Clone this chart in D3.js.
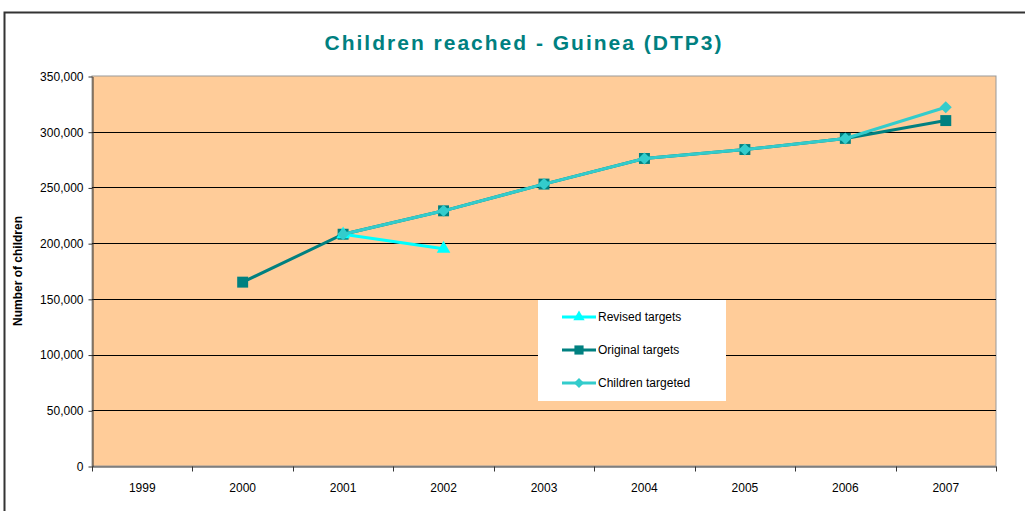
<!DOCTYPE html>
<html>
<head>
<meta charset="utf-8">
<script src="https://cdn.jsdelivr.net/npm/d3@7"></script>
<style>
  body { margin: 0; background: #fff; }
  text { font-family: "Liberation Sans", Arial, sans-serif; }
</style>
</head>
<body>
<div id="chart"></div>
<script>
var years = ['1999', '2000', '2001', '2002', '2003', '2004', '2005', '2006', '2007'];
var revised = [null, null, 208000, 195000, null, null, null, null, null];
var original = [null, 165000, 208000, 229000, 253000, 276000, 284000, 294000, 310000];
var targeted = [null, null, 208000, 229000, 253000, 276000, 284000, 294000, 322000];
var yTicks = [0, 50000, 100000, 150000, 200000, 250000, 300000, 350000];

var width = 1025;
var height = 511;
var plot = { left: 92, right: 996, top: 76, bottom: 466 };

var svg = d3.select('#chart')
  .append('svg')
    .attr('width', width)
    .attr('height', height);

// outer chart frame
svg.append('rect')
  .attr('x', 4.5).attr('y', 12.5)
  .attr('width', 1040).attr('height', 520)
  .attr('fill', '#fff')
  .attr('stroke', '#333')
  .attr('stroke-width', 2);

var x = d3.scaleBand()
  .domain(years)
  .range([plot.left, plot.right]);

var y = d3.scaleLinear()
  .domain([0, 350000])
  .range([plot.bottom, plot.top]);

svg.append('rect')
  .attr('x', plot.left).attr('y', plot.top)
  .attr('width', plot.right - plot.left)
  .attr('height', plot.bottom - plot.top)
  .attr('fill', '#FFCC99')
  .attr('stroke', '#999')
  .attr('stroke-width', 1);

// gridlines
svg.append('g')
  .selectAll('line')
  .data(yTicks.filter(d => d > 0 && d < 350000)).enter()
  .append('line')
    .attr('x1', plot.left).attr('x2', plot.right)
    .attr('y1', d => Math.round(y(d)) + 0.5)
    .attr('y2', d => Math.round(y(d)) + 0.5)
    .attr('stroke', '#000');

var yAxis = svg.append('g')
  .attr('transform', 'translate(' + (plot.left + 0.5) + ',0.5)')
  .call(d3.axisLeft(y).tickValues(yTicks).tickSize(4).tickSizeOuter(0)
    .tickFormat(d3.format(',')));

var xAxis = svg.append('g')
  .attr('transform', 'translate(0,' + (plot.bottom + 0.5) + ')')
  .call(d3.axisBottom(x).tickSize(0).tickSizeOuter(0));

// x ticks sit between categories
xAxis.selectAll('.sep')
  .data(d3.range(years.length + 1)).enter()
  .append('line')
    .attr('class', 'sep')
    .attr('x1', i => Math.round(plot.left + i * x.step()) + 0.5)
    .attr('x2', i => Math.round(plot.left + i * x.step()) + 0.5)
    .attr('y1', 0).attr('y2', 5)
    .attr('stroke', '#333');

[yAxis, xAxis].forEach(function(a) {
  a.select('.domain').attr('stroke', '#333');
  a.selectAll('.tick line').attr('stroke', '#333');
  a.selectAll('text')
    .attr('fill', '#000')
    .style('font-size', '12px')
    .style('font-family', '"Liberation Sans", Arial, sans-serif');
});
xAxis.selectAll('.tick text').attr('y', 8).attr('dy', '1.45em');
yAxis.selectAll('.tick text').attr('x', -9);

svg.append('text')
  .attr('x', 524).attr('y', 50)
  .attr('text-anchor', 'middle')
  .attr('fill', '#008080')
  .style('font-size', '21px')
  .style('font-weight', 'bold')
  .style('letter-spacing', '2px')
  .text('Children reached - Guinea (DTP3)');

svg.append('text')
  .attr('transform', 'translate(22,271) rotate(-90)')
  .attr('text-anchor', 'middle')
  .style('font-size', '12px')
  .style('font-weight', 'bold')
  .text('Number of children');

var cx = d => x(d) + x.bandwidth() / 2;

var series = [
  { name: 'Original targets', values: original, color: '#008080', sym: d3.symbolSquare, size: 120, rot: 0 },
  { name: 'Revised targets', values: revised, color: '#00FFFF', sym: d3.symbolTriangle, size: 80, rot: 0 },
  { name: 'Children targeted', values: targeted, color: '#33CCCC', sym: d3.symbolSquare, size: 72, rot: 45 }
];

var line = d3.line()
  .defined(d => d.v != null)
  .x(d => cx(d.year))
  .y(d => y(d.v));

series.forEach(function(s) {
  var pts = years.map((yr, i) => ({ year: yr, v: s.values[i] }));
  var g = svg.append('g');
  g.append('path')
    .datum(pts)
    .attr('d', line)
    .attr('fill', 'none')
    .attr('stroke', s.color)
    .attr('stroke-width', 3);
  g.selectAll('path.pt')
    .data(pts.filter(d => d.v != null)).enter()
    .append('path')
      .attr('class', 'pt')
      .attr('transform', d => 'translate(' + cx(d.year) + ',' + y(d.v) + ') rotate(' + s.rot + ')')
      .attr('d', d3.symbol().type(s.sym).size(s.size))
      .attr('fill', s.color);
});

// legend
var legend = svg.append('g').attr('transform', 'translate(538,300)');
legend.append('rect')
  .attr('width', 188).attr('height', 101)
  .attr('fill', '#fff');

var legendOrder = [series[1], series[0], series[2]];
legendOrder.forEach(function(s, i) {
  var ly = 17 + i * 33;
  var row = legend.append('g').attr('transform', 'translate(0,' + ly + ')');
  row.append('line')
    .attr('x1', 24).attr('x2', 58)
    .attr('stroke', s.color).attr('stroke-width', 3);
  row.append('path')
    .attr('transform', 'translate(41,0) rotate(' + s.rot + ')')
    .attr('d', d3.symbol().type(s.sym).size(s.size * 0.7))
    .attr('fill', s.color);
  row.append('text')
    .attr('x', 60).attr('y', 4)
    .style('font-size', '12px')
    .text(s.name);
});
</script>
</body>
</html>
